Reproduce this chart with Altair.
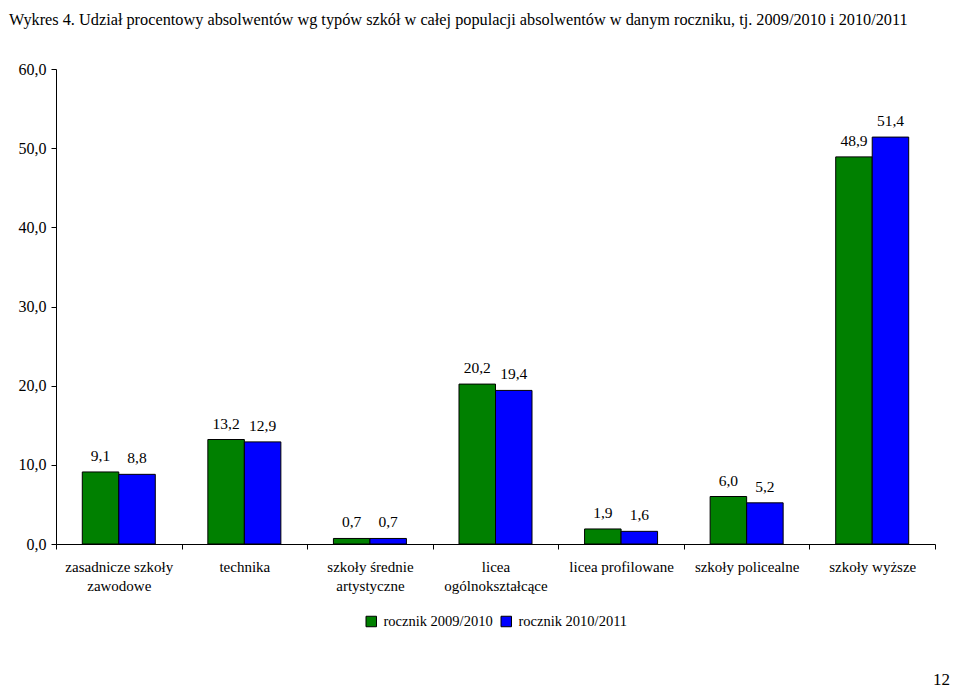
import altair as alt
import pandas as pd

categories = ["zasadnicze szkoły\nzawodowe", "technika", "szkoły średnie\nartystyczne",
              "licea\nogólnokształcące", "licea profilowane", "szkoły policealne", "szkoły wyższe"]
series = ["rocznik 2009/2010", "rocznik 2010/2011"]
values_2009 = [9.1, 13.2, 0.7, 20.2, 1.9, 6.0, 48.9]
values_2010 = [8.8, 12.9, 0.7, 19.4, 1.6, 5.2, 51.4]
y_ticks = [0, 10, 20, 30, 40, 50, 60]
colors = ["#008000", "#0000FF"]
title_text = ("Wykres 4. Udział procentowy absolwentów wg typów szkół w całej populacji "
              "absolwentów w danym roczniku, tj. 2009/2010 i 2010/2011")
page_number = "12"

rows = []
for c, a, b in zip(categories, values_2009, values_2010):
    rows.append({"kat": c, "seria": series[0], "v": a})
    rows.append({"kat": c, "seria": series[1], "v": b})
df = pd.DataFrame(rows)

FONT = "Liberation Serif"

x = alt.X("kat:N", sort=categories, title=None,
          scale=alt.Scale(paddingInner=0, paddingOuter=0),
          axis=alt.Axis(labelAngle=0, labelFont=FONT, labelFontSize=15, labelColor="black",
                        labelExpr="split(datum.label, '\\n')", labelLineHeight=19,
                        labelPadding=10, tickSize=5, tickBand="extent", tickColor="black",
                        domainColor="black", labelBaseline="top"))
xo = alt.XOffset("seria:N", sort=series, scale=alt.Scale(paddingInner=0, paddingOuter=0.72))
y = alt.Y("v:Q", title=None,
          scale=alt.Scale(domain=[0, 60], nice=False),
          axis=alt.Axis(values=y_ticks, grid=False, labelFont=FONT, labelFontSize=16,
                        labelColor="black", tickColor="black", domainColor="black",
                        tickSize=5, labelPadding=5,
                        labelExpr="replace(format(datum.value, '.1f'), '.', ',')"))

bars = alt.Chart(df).mark_bar(stroke="black", strokeWidth=1).encode(
    x=x, xOffset=xo, y=y,
    color=alt.Color("seria:N", sort=series, scale=alt.Scale(domain=series, range=colors),
                    legend=alt.Legend(title=None, orient="none", direction="horizontal",
                                      legendX=308, legendY=545, symbolType="square",
                                      symbolSize=110, symbolStrokeColor="black",
                                      symbolStrokeWidth=1, symbolOpacity=1,
                                      labelFont=FONT, labelFontSize=14.5, labelColor="black",
                                      columnPadding=6, labelOffset=5))
)

labels = alt.Chart(df).transform_calculate(
    lab="replace(format(datum.v, '.1f'), '.', ',')"
).mark_text(font=FONT, fontSize=15.5, color="black", baseline="bottom", dy=-8).encode(
    x=x, xOffset=xo, y=y, text="lab:N"
)

page = alt.Chart(pd.DataFrame({"t": [page_number]})).mark_text(
    font=FONT, fontSize=17, color="black", align="right", baseline="alphabetic"
).encode(x=alt.value(894), y=alt.value(616), text="t:N")

chart = alt.layer(bars, labels, page).properties(
    width=879, height=475,
    autosize=alt.AutoSizeParams(type="none"),
    padding={"left": 48, "top": 61, "right": 17, "bottom": 148},
    title=alt.TitleParams(text=title_text, anchor="start", frame="group", dx=-47, dy=-29,
                          font=FONT, fontSize=16.3, fontWeight="normal", color="black"),
).configure_view(stroke=None)

chart.save("out.html", embed_options={"renderer": "svg", "actions": False})
